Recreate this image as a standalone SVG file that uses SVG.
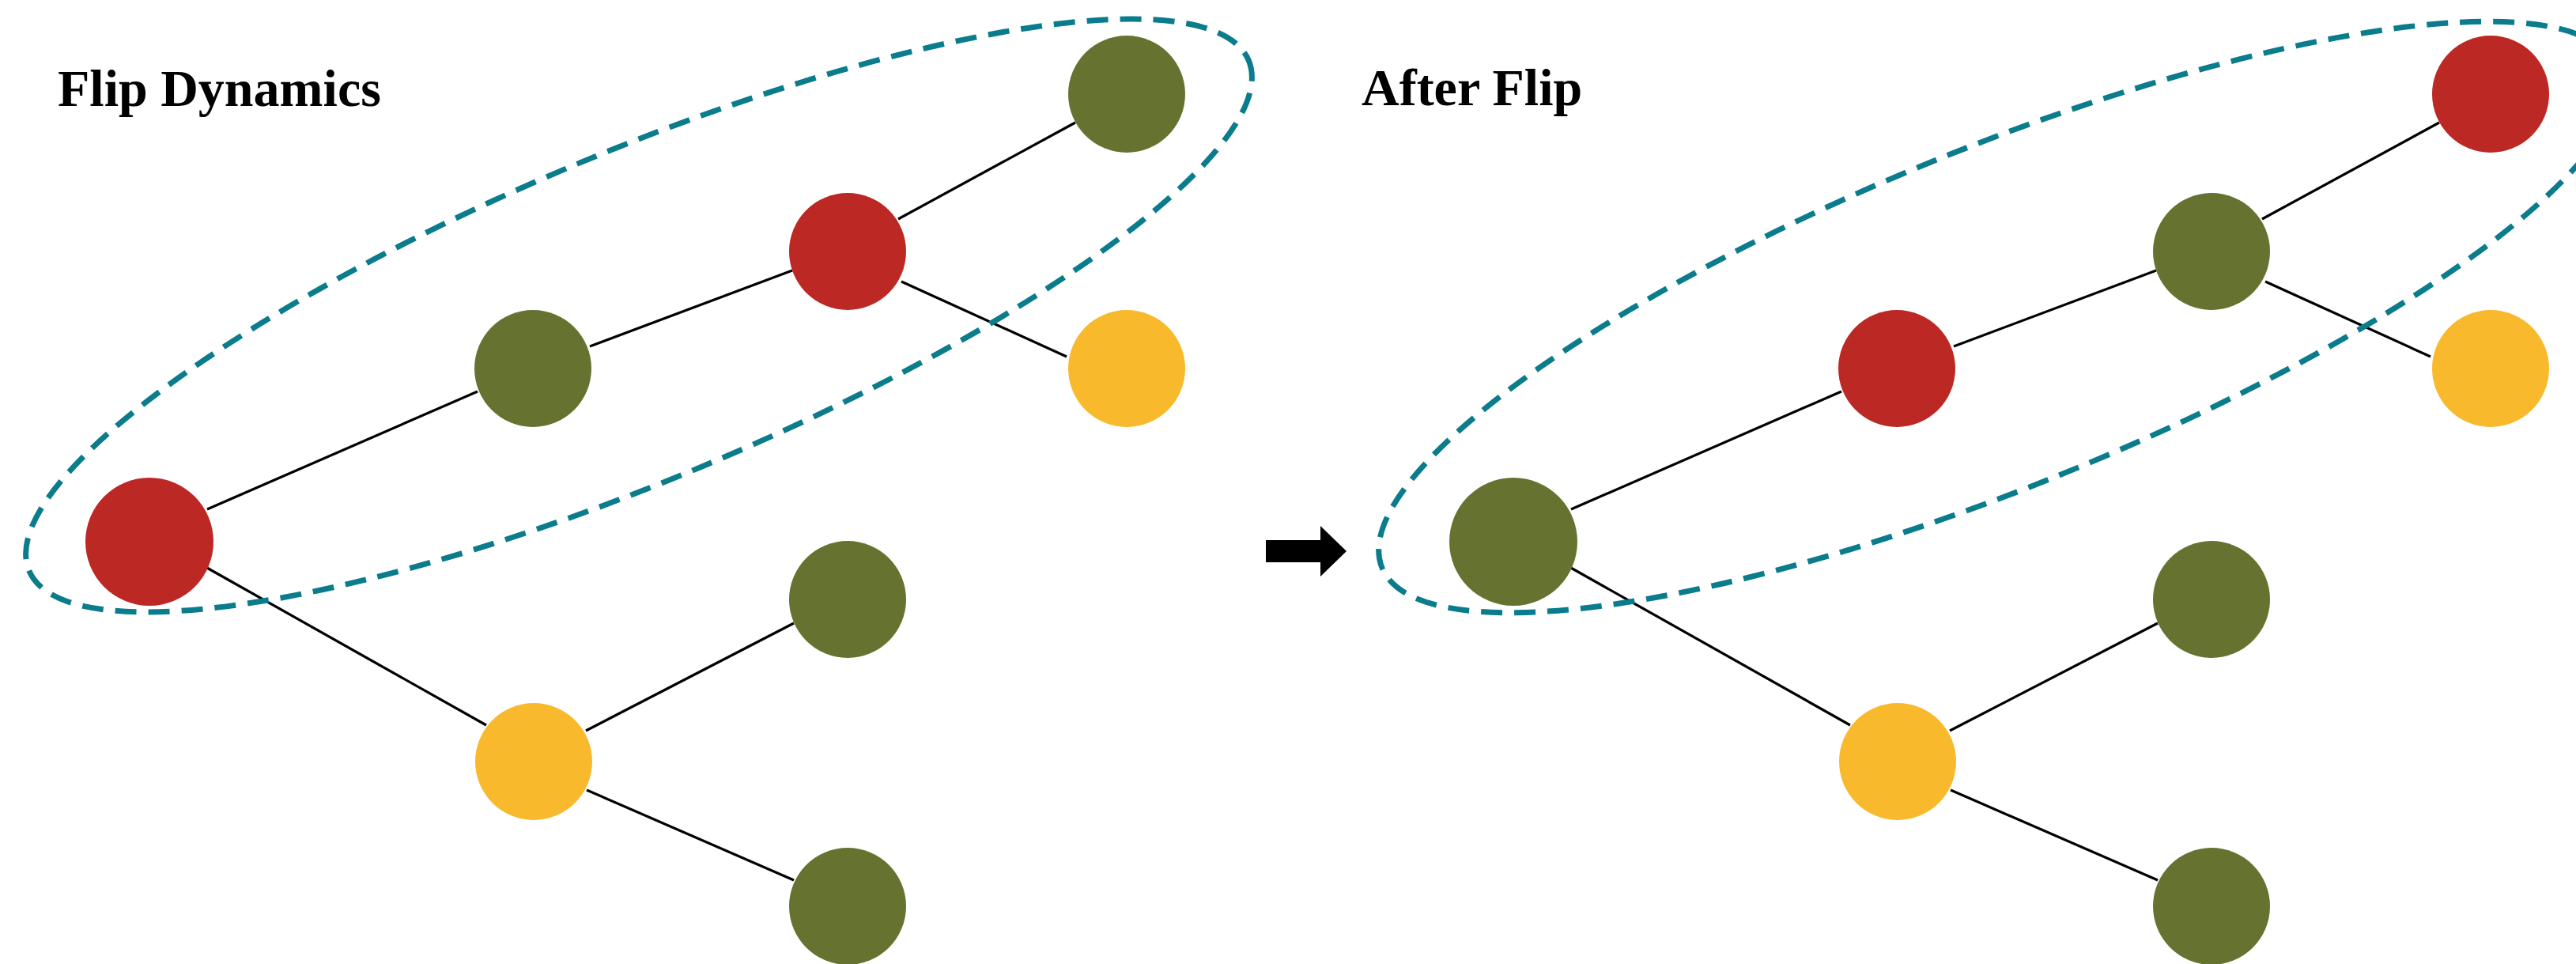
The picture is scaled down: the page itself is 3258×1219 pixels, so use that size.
<svg xmlns="http://www.w3.org/2000/svg" width="3258" height="1219" viewBox="0 0 3258 1219">
<style>
.title{font-family:"Liberation Serif","DejaVu Serif",serif;font-weight:bold;font-size:66px;fill:#000}
.edge{stroke:#000;stroke-width:3.2;fill:none}
.hull{fill:none;stroke:#0A7C8C;stroke-width:7;stroke-dasharray:27 15}
.red{fill:#BC2824}
.green{fill:#667330}
.yellow{fill:#F9B92C}
</style>
<rect width="3258" height="1219" fill="#fff"/>
<text class="title" x="73" y="134">Flip Dynamics</text>
<text class="title" x="1722" y="133">After Flip</text>
<g id="connectors">
<line class="edge" x1="262" y1="644" x2="604" y2="495"/>
<line class="edge" x1="746" y1="438" x2="1002" y2="342"/>
<line class="edge" x1="1136" y1="277" x2="1360" y2="155"/>
<line class="edge" x1="1140" y1="356" x2="1349" y2="451"/>
<line class="edge" x1="260" y1="717" x2="615" y2="917"/>
<line class="edge" x1="741" y1="924" x2="1004" y2="788"/>
<line class="edge" x1="742" y1="999" x2="1004" y2="1113"/>
<line class="edge" x1="1987" y1="644" x2="2329" y2="495"/>
<line class="edge" x1="2471" y1="438" x2="2727" y2="342"/>
<line class="edge" x1="2861" y1="277" x2="3085" y2="155"/>
<line class="edge" x1="2865" y1="356" x2="3074" y2="451"/>
<line class="edge" x1="1985" y1="717" x2="2340" y2="917"/>
<line class="edge" x1="2466" y1="924" x2="2729" y2="788"/>
<line class="edge" x1="2467" y1="999" x2="2729" y2="1113"/>
<polygon points="1601,683 1670,683 1670,665 1703,697 1670,729 1670,711 1601,711" fill="#000"/>
</g>
<g id="hull-left"><ellipse class="hull" cx="808" cy="399" rx="836" ry="207" transform="rotate(-22.7 808 399)"/></g>
<g id="hull-right"><ellipse class="hull" cx="2528" cy="401" rx="842" ry="214" transform="rotate(-22.1 2528 401)"/></g>
<g id="L-root"><circle class="red" cx="189" cy="685" r="81"/></g>
<g id="L-a"><circle class="green" cx="674" cy="466" r="74"/></g>
<g id="L-b"><circle class="red" cx="1072" cy="318" r="74"/></g>
<g id="L-c"><circle class="green" cx="1425" cy="119" r="74"/></g>
<g id="L-d"><circle class="yellow" cx="1425" cy="466" r="74"/></g>
<g id="L-e"><circle class="yellow" cx="675" cy="963" r="74"/></g>
<g id="L-f"><circle class="green" cx="1072" cy="758" r="74"/></g>
<g id="L-g"><circle class="green" cx="1072" cy="1146" r="74"/></g>
<g id="R-root"><circle class="green" cx="1914" cy="685" r="81"/></g>
<g id="R-a"><circle class="red" cx="2399" cy="466" r="74"/></g>
<g id="R-b"><circle class="green" cx="2797" cy="318" r="74"/></g>
<g id="R-c"><circle class="red" cx="3150" cy="119" r="74"/></g>
<g id="R-d"><circle class="yellow" cx="3150" cy="466" r="74"/></g>
<g id="R-e"><circle class="yellow" cx="2400" cy="963" r="74"/></g>
<g id="R-f"><circle class="green" cx="2797" cy="758" r="74"/></g>
<g id="R-g"><circle class="green" cx="2797" cy="1146" r="74"/></g>
</svg>
